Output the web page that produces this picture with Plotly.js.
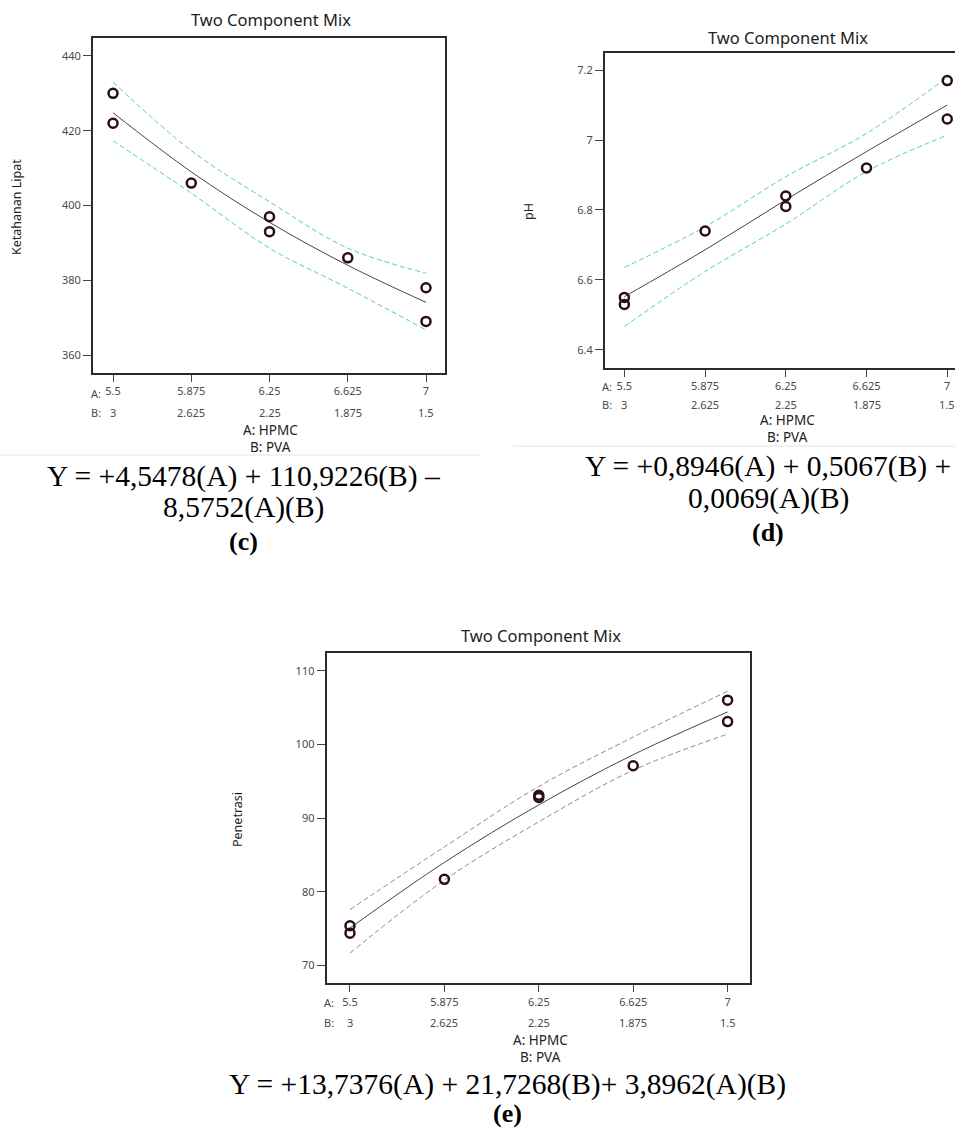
<!DOCTYPE html>
<html>
<head>
<meta charset="utf-8">
<script src="https://cdn.plot.ly/plotly-3.0.1.min.js"></script>
<style>html,body{margin:0;padding:0;background:#fff;}#chart{width:955px;height:1129px;}</style>
</head>
<body>
<div id="chart"></div>
<script>
// ---- data ----
const ticksA = [5.5, 5.875, 6.25, 6.625, 7];
const tickTextA = ['5.5', '5.875', '6.25', '6.625', '7'];
const tickTextB = ['3', '2.625', '2.25', '1.875', '1.5'];

const ptsX = [5.5, 5.5, 5.875, 6.25, 6.25, 6.625, 7, 7];

// (c) Ketahanan Lipat
const lipatY = [430, 422, 406, 397, 393, 386, 378, 369];
const lipatFit = [424.8, 409, 395.5, 384, 374.1];
const lipatUp = [433, 414.7, 401, 388.6, 381.9];
const lipatLo = [417.3, 403.3, 388.6, 377.9, 366.7];
const lipatTicks = [360, 380, 400, 420, 440];

// (d) pH
const phY = [6.55, 6.53, 6.74, 6.84, 6.81, 6.92, 7.17, 7.06];
const phFit = [6.552, 6.686, 6.829, 6.967, 7.1];
const phUp = [6.636, 6.752, 6.895, 7.019, 7.179];
const phLo = [6.467, 6.624, 6.76, 6.91, 7.014];
const phTicks = [6.4, 6.6, 6.8, 7, 7.2];

// (e) Penetrasi
const penY = [75.4, 74.4, 81.7, 93.1, 92.8, 97.1, 106, 103.1];
const penFit = [75.1, 84, 91.8, 98.6, 104.4];
const penUp = [77.6, 86.1, 94.3, 101, 107.2];
const penLo = [71.7, 81.6, 89.5, 96.5, 101.4];
const penTicks = [70, 80, 90, 100, 110];

const eqC1 = 'Y = +4,5478(A) + 110,9226(B) \u2013';
const eqC2 = '8,5752(A)(B)';
const eqD1 = 'Y = +0,8946(A) + 0,5067(B) +';
const eqD2 = '0,0069(A)(B)';
const eqE1 = 'Y = +13,7376(A) + 21,7268(B)+ 3,8962(A)(B)';

// ---- styling ----
const W = 955, H = 1129;
const SANS = 'Noto Sans, Open Sans, sans-serif';
const SERIF = 'Liberation Serif, Times New Roman, serif';
const CYAN = '#4fcad3';
const MK = '#2a0f10';
const TICKC = '#4a4a4a';

function px(x) { return x / W; }
function py(y) { return 1 - y / H; }
function txt(x, y, text, size, opts) {
  return Object.assign({xref: 'paper', yref: 'paper', x: px(x), y: py(y), text: text,
    showarrow: false, xanchor: 'center', yanchor: 'middle',
    font: {family: SANS, size: size, color: '#222'}}, opts || {});
}
const smallFont = {family: SANS, size: 11, color: TICKC};

function xax(domain, range, anchor) {
  return {domain: domain, range: range, anchor: anchor, tickmode: 'array', tickvals: ticksA, ticktext: tickTextA,
    ticks: 'outside', ticklen: 7, tickwidth: 1, tickcolor: '#444', showline: true, linecolor: '#2a2a2a',
    linewidth: 2, mirror: true, showgrid: false, zeroline: false,
    tickfont: smallFont};
}
function yax(domain, range, anchor, tv, mirror) {
  return {domain: domain, range: range, anchor: anchor, tickmode: 'array', tickvals: tv,
    ticks: 'outside', ticklen: 8, tickwidth: 1, tickcolor: '#444', showline: true, linecolor: '#2a2a2a',
    linewidth: 2, mirror: mirror, showgrid: false, zeroline: false,
    tickfont: smallFont};
}

function panel(xa, ya, yPts, fit, up, lo, ciColor) {
  return [
    {x: ticksA, y: up, xaxis: xa, yaxis: ya, mode: 'lines', line: {color: ciColor, width: 1, dash: '5px,3px', shape: 'spline'}, hoverinfo: 'skip'},
    {x: ticksA, y: lo, xaxis: xa, yaxis: ya, mode: 'lines', line: {color: ciColor, width: 1, dash: '5px,3px', shape: 'spline'}, hoverinfo: 'skip'},
    {x: ticksA, y: fit, xaxis: xa, yaxis: ya, mode: 'lines', line: {color: '#444', width: 1, shape: 'spline'}, hoverinfo: 'skip'},
    {x: ptsX, y: yPts, xaxis: xa, yaxis: ya, mode: 'markers',
      marker: {symbol: 'circle-open', size: 9, color: MK, line: {color: MK, width: 2.5}}}
  ];
}

const data = [].concat(
  panel('x', 'y', lipatY, lipatFit, lipatUp, lipatLo, CYAN),
  panel('x2', 'y2', phY, phFit, phUp, phLo, CYAN),
  panel('x3', 'y3', penY, penFit, penUp, penLo, '#8a8a8a')
);

const annotations = [];
// panel (c)
annotations.push(txt(271, 20, 'Two Component Mix', 16.5));
annotations.push(txt(17, 207, 'Ketahanan Lipat', 12.5, {textangle: -90}));
annotations.push(txt(270, 430, 'A: HPMC', 13.5));
annotations.push(txt(270, 447, 'B: PVA', 13.5));
annotations.push(txt(96, 393, 'A:', 11, {font: smallFont}));
annotations.push(txt(96, 412, 'B:', 11, {font: smallFont}));
// panel (d)
annotations.push(txt(788, 37, 'Two Component Mix', 16.5));
annotations.push(txt(528, 212, 'pH', 12.5, {textangle: -90}));
annotations.push(txt(787, 420, 'A: HPMC', 13.5));
annotations.push(txt(787, 437, 'B: PVA', 13.5));
annotations.push(txt(607, 386, 'A:', 11, {font: smallFont}));
annotations.push(txt(607, 404, 'B:', 11, {font: smallFont}));
// panel (e)
annotations.push(txt(541, 635, 'Two Component Mix', 16.5));
annotations.push(txt(237, 820, 'Penetrasi', 12.5, {textangle: -90}));
annotations.push(txt(540, 1040, 'A: HPMC', 13.5));
annotations.push(txt(540, 1057, 'B: PVA', 13.5));
annotations.push(txt(329, 1003, 'A:', 11, {font: smallFont}));
annotations.push(txt(329, 1022, 'B:', 11, {font: smallFont}));

// B row tick labels placed through the x scales
[['x', 412], ['x2', 404], ['x3', 1022]].forEach(function (p) {
  ticksA.forEach(function (v, i) {
    annotations.push({xref: p[0], yref: 'paper', x: v, y: py(p[1]), text: tickTextB[i], showarrow: false,
      xanchor: 'center', yanchor: 'middle', font: smallFont});
  });
});

// equations
const eqFont = {family: SERIF, size: 29.5, color: '#000'};
const capFont = {family: SERIF, size: 26, color: '#000', weight: 'bold'};
annotations.push(txt(243, 476, eqC1, 29.5, {font: eqFont}));
annotations.push(txt(243, 508, eqC2, 29.5, {font: eqFont}));
annotations.push(txt(243, 541, '<b>(c)</b>', 26, {font: capFont}));
annotations.push(txt(768, 466, eqD1, 29.5, {font: eqFont}));
annotations.push(txt(768, 499, eqD2, 29.5, {font: eqFont}));
annotations.push(txt(768, 532, '<b>(d)</b>', 26, {font: capFont}));
annotations.push(txt(508, 1084, eqE1, 29.5, {font: eqFont}));
annotations.push(txt(508, 1113, '<b>(e)</b>', 26, {font: capFont}));

const shapes = [
  {type: 'line', xref: 'paper', yref: 'paper', x0: 0, x1: px(480), y0: py(455), y1: py(455), line: {color: '#ececec', width: 1.5}},
  {type: 'line', xref: 'paper', yref: 'paper', x0: px(513), x1: 1, y0: py(446), y1: py(446), line: {color: '#ececec', width: 1.5}}
];

const layout = {
  width: W, height: H, margin: {l: 0, r: 0, t: 0, b: 0}, paper_bgcolor: '#fff', plot_bgcolor: '#fff',
  showlegend: false,
  xaxis: xax([px(93), px(445)], [5.404, 7.091], 'y'),
  yaxis: yax([py(373), py(38)], [355.2, 444.8], 'x', lipatTicks, true),
  xaxis2: xax([px(605), 1], [5.41, 7.036], 'y2'),
  yaxis2: yax([py(367.7), py(53.3)], [6.349, 7.248], 'x2', phTicks, false),
  xaxis3: xax([px(326.7), px(750)], [5.4075, 7.089], 'y3'),
  yaxis3: yax([py(983.3), py(652.7)], [67.6, 112.44], 'x3', penTicks, true),
  annotations: annotations, shapes: shapes
};

Plotly.newPlot('chart', data, layout, {staticPlot: true, displayModeBar: false});
</script>
</body>
</html>
